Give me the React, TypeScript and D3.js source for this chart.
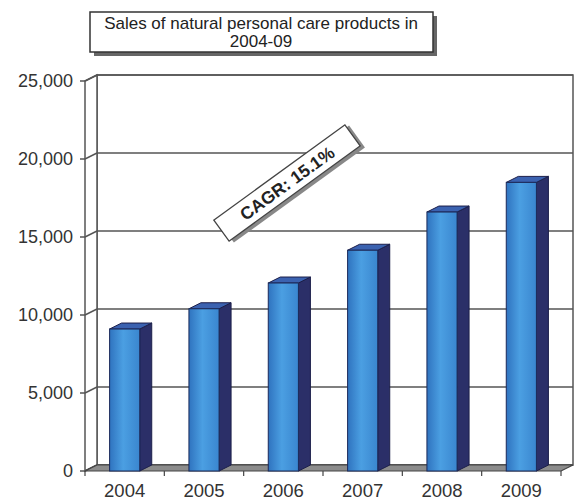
import React from "react";
import * as d3 from "d3";

const years = ["2004", "2005", "2006", "2007", "2008", "2009"];
const sales = [9100, 10400, 12050, 14150, 16600, 18500];
const yTicks = [0, 5000, 10000, 15000, 20000, 25000];
const titleLines = ["Sales of natural personal care products in", "2004-09"];
const cagrLabel = "CAGR: 15.1%";

const W = 583, H = 501;
const X0 = 85, X1 = 561, Y0 = 471, Y1 = 81;
const DX = 12, DY = -6;

export default function App() {
  const y = d3.scaleLinear().domain([0, 25000]).range([Y0, Y1]);
  const x = d3.scaleBand<string>().domain(years).range([X0, X1]).padding(0);
  const bw = x.bandwidth() * 0.38;
  const fmt = d3.format(",");
  const font = "'Liberation Sans', Arial, sans-serif";

  return (
    <svg width={W} height={H} style={{ position: "absolute", left: 0, top: 0, background: "#fff" }}>
      <defs>
        <linearGradient id="front" x1="0" x2="1" y1="0" y2="0">
          <stop offset="0" stopColor="#2f73bf" />
          <stop offset="0.45" stopColor="#4b9fe2" />
          <stop offset="1" stopColor="#3a86cf" />
        </linearGradient>
      </defs>
      {/* back wall */}
      <rect x={X0 + DX} y={Y1 + DY} width={X1 - X0} height={Y0 - Y1} fill="#fff" stroke="#555" strokeWidth={1.5} />
      {/* left wall */}
      <path d={`M${X0},${Y0} L${X0},${Y1} L${X0 + DX},${Y1 + DY} L${X0 + DX},${Y0 + DY} Z`} fill="#fff" stroke="#555" strokeWidth={1.5} />
      {/* gridlines */}
      {yTicks.map((t) => (
        <g key={t}>
          <line x1={X0 + DX} x2={X1 + DX} y1={y(t) + DY} y2={y(t) + DY} stroke="#555" strokeWidth={1.5} />
          <line x1={X0} x2={X0 + DX} y1={y(t)} y2={y(t) + DY} stroke="#555" strokeWidth={1.5} />
          <line x1={X0 - 5} x2={X0} y1={y(t)} y2={y(t)} stroke="#555" strokeWidth={1.5} />
          <text x={73} y={y(t) + 6} textAnchor="end" fontFamily={font} fontSize={18} fill="#333">
            {fmt(t)}
          </text>
        </g>
      ))}
      {/* floor */}
      <path d={`M${X0},${Y0} L${X1},${Y0} L${X1 + DX},${Y0 + DY} L${X0 + DX},${Y0 + DY} Z`} fill="#8c8c8c" stroke="#444" strokeWidth={1.2} />
      {/* category ticks */}
      {d3.range(years.length + 1).map((i) => {
        const xx = X0 + i * x.step();
        return <line key={i} x1={xx} x2={xx} y1={Y0} y2={Y0 + 5} stroke="#444" strokeWidth={1.2} />;
      })}
      {/* bars */}
      {years.map((yr, i) => {
        const cx = (x(yr) as number) + x.bandwidth() / 2;
        const l = cx - bw / 2, r = cx + bw / 2;
        const top = y(sales[i]);
        return (
          <g key={yr}>
            <path d={`M${r},${Y0} L${r},${top} L${r + DX},${top + DY} L${r + DX},${Y0 + DY} Z`} fill="#2b2f68" stroke="#1c1f4a" strokeWidth={1} />
            <path d={`M${l},${top} L${r},${top} L${r + DX},${top + DY} L${l + DX},${top + DY} Z`} fill="#3b62b0" stroke="#1c1f4a" strokeWidth={1} />
            <rect x={l} y={top} width={bw} height={Y0 - top} fill="url(#front)" stroke="#1c2a5a" strokeWidth={1} />
          </g>
        );
      })}
      {/* year labels */}
      {years.map((yr) => (
        <text key={yr} x={(x(yr) as number) + x.bandwidth() / 2} y={497} textAnchor="middle" fontFamily={font} fontSize={18.5} fill="#333">
          {yr}
        </text>
      ))}
      {/* title box */}
      <rect x={94} y={16} width={343} height={40} fill="#666" />
      <rect x={90} y={12} width={343} height={40} fill="#fff" stroke="#333" strokeWidth={1.5} />
      {titleLines.map((t, i) => (
        <text key={i} x={261} y={29 + i * 18} textAnchor="middle" fontFamily={font} fontSize={17} fill="#222">
          {t}
        </text>
      ))}
      {/* CAGR box */}
      <g transform="translate(287,183) rotate(-36)">
        <rect x={-78} y={-10} width={162} height={27} fill="#888" />
        <rect x={-81} y={-13} width={162} height={26} fill="#fff" stroke="#444" strokeWidth={1.3} />
        <text x={0} y={6.5} textAnchor="middle" fontFamily={font} fontSize={17.5} fontWeight="bold" fill="#222">
          {cagrLabel}
        </text>
      </g>
    </svg>
  );
}
